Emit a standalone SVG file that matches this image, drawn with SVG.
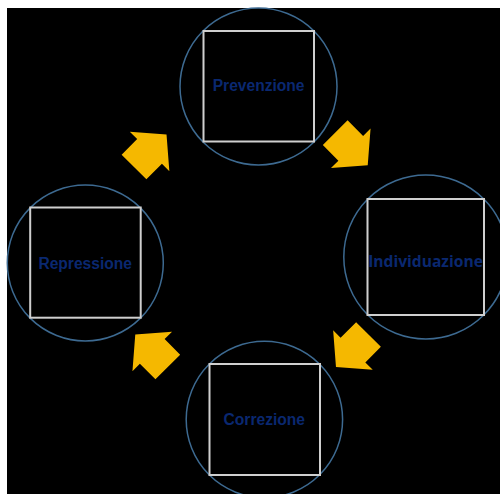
<svg xmlns="http://www.w3.org/2000/svg" width="500" height="494" viewBox="0 0 500 494">
  <defs>
    <style>
      .ring { fill: none; stroke: #3d6a91; stroke-width: 1.5; }
      .box { fill: #000; stroke: #cfcfcf; stroke-width: 2; }
      .label { fill: #0a2870; font-family: "Liberation Sans", Arial, sans-serif; font-weight: bold; font-size: 15.6px; text-anchor: middle; }
      .label-alt { font-family: "Open Sans", "Noto Sans", sans-serif; }
      .step { fill: #f5b800; }
    </style>
    <!-- block arrow pointing along +x, tail midpoint at origin -->
    <path id="blockArrow" d="M0,-17.5 L22,-17.5 L22,-28 L46,0 L22,28 L22,17.5 L0,17.5 Z"/>
  </defs>

  <rect x="0" y="0" width="500" height="494" fill="#fff"/>
  <rect x="7" y="8" width="493" height="486" fill="#000"/>

  <g id="prevenzione">
    <circle class="ring" cx="258.5" cy="86.5" r="78.5"/>
    <rect class="box" x="203.5" y="31" width="110.5" height="110.5"/>
    <text class="label" x="258.6" y="90.7">Prevenzione</text>
  </g>

  <g id="individuazione">
    <circle class="ring" cx="425.8" cy="257" r="82"/>
    <rect class="box" x="367.5" y="199" width="116.5" height="116"/>
    <text class="label label-alt" x="425.5" y="266.5">Individuazione</text>
  </g>

  <g id="correzione">
    <circle class="ring" cx="264.4" cy="419.5" r="78.2"/>
    <rect class="box" x="209.5" y="364" width="110.5" height="111"/>
    <text class="label" x="264.3" y="425">Correzione</text>
  </g>

  <g id="repressione">
    <circle class="ring" cx="85.3" cy="263" r="78"/>
    <rect class="box" x="30.2" y="207.5" width="110.5" height="110.2"/>
    <text class="label" x="85.2" y="268.6">Repressione</text>
  </g>

  <g id="connectors">
    <use href="#blockArrow" class="step" transform="translate(134,167) rotate(-45)"/>
    <use href="#blockArrow" class="step" transform="translate(335.2,132.7) rotate(45)"/>
    <use href="#blockArrow" class="step" transform="translate(368.5,334.5) rotate(135)"/>
    <use href="#blockArrow" class="step" transform="translate(167.8,367) rotate(-135)"/>
  </g>
</svg>
